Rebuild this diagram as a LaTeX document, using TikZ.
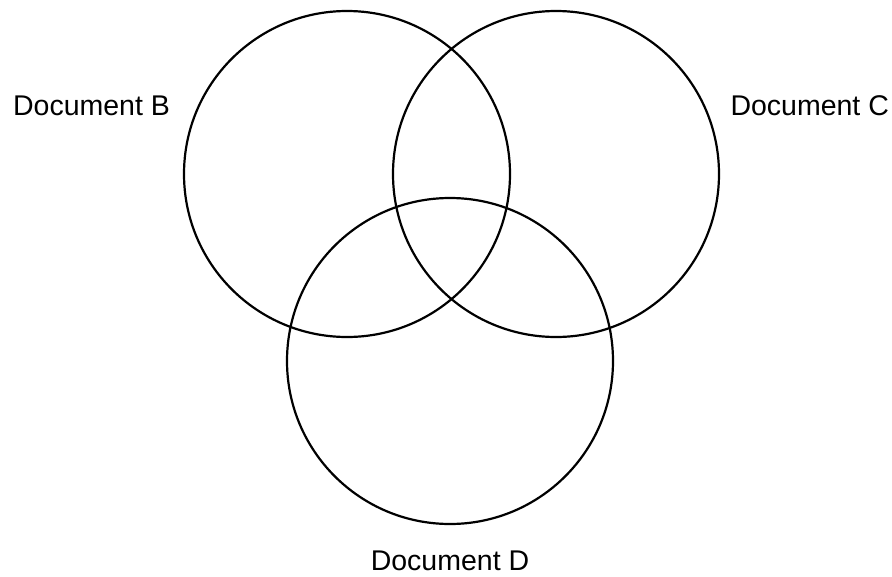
\documentclass[tikz,border=0pt]{standalone}
\usepackage{fontspec}
\setmainfont{Liberation Sans}
\usetikzlibrary{positioning}

\begin{document}
\begin{tikzpicture}[x=1pt, y=-1pt, line width=2.2pt,
    docset/.style={draw, circle, minimum size=326pt, inner sep=0pt},
    doclabel/.style={inner sep=0pt, font=\fontsize{28.5}{34}\selectfont}]
        \useasboundingbox (0,0) rectangle (892,576);

        \node[docset] (setB) at (347,174) {};
        \node[docset] (setC) at (556,174) {};
        \node[docset] (setD) at (450,361) {};

        \node[doclabel, anchor=base west] (labB) at (12,115) {Document B};
        \node[doclabel, anchor=base east] (labC) at (890,115) {Document C};
        \node[doclabel, anchor=base] (labD) at (setD.south |- 0,570) {Document D};
      \end{tikzpicture}
\end{document}
